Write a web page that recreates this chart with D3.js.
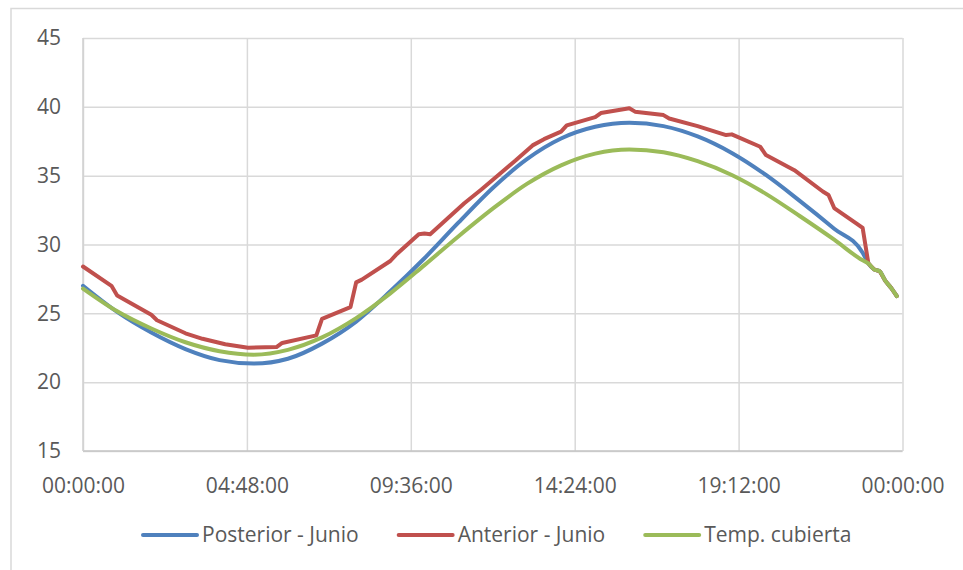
<!DOCTYPE html>
<html>
<head>
<meta charset="utf-8">
<script src="https://cdn.jsdelivr.net/npm/d3@7"></script>
<style>
  html, body { margin: 0; padding: 0; background: #ffffff; }
  svg { display: block; font-family: "Open Sans", sans-serif; }
</style>
</head>
<body>
<svg id="chart" width="963" height="570"></svg>
<script>
// Series names (legend order)
const seriesNames = ["Posterior - Junio", "Anterior - Junio", "Temp. cubierta"];

// Posterior - Junio (°C)
const posteriorTimes = ["00:00","01:00","02:00","03:00","04:00","05:00","06:00","07:00","08:00","09:00",
  "10:00","11:00","12:00","13:00","14:00","15:00","16:00","17:00","18:00","19:00","20:00","21:00",
  "22:00","22:50","23:00","23:10","23:20","23:30","23:40","23:50"];
const posteriorValues = [27.0, 25.1, 23.6, 22.4, 21.6, 21.35, 21.7, 22.8, 24.4, 26.6,
  29.0, 31.6, 34.1, 36.2, 37.7, 38.55, 38.85, 38.6, 37.85, 36.65, 35.05, 33.15,
  31.15, 29.4, 28.63, 28.2, 28.05, 27.35, 26.85, 26.25];

// Anterior - Junio (°C)
const anteriorTimes = ["00:00","00:50","01:00","02:00","02:10","03:00","03:30","04:10","04:50","05:40",
  "05:50","06:50","07:00","07:50","08:00","08:10","09:00","09:10","09:50","10:00","10:10",
  "11:10","11:40","12:10","12:40","13:10","13:30","14:00","14:10","15:00","15:10","16:00","16:10",
  "17:00","17:10","18:00","18:50","19:00","19:50","20:00","20:50","21:40","21:50","22:00","22:40",
  "22:50","23:00","23:10","23:20","23:30","23:40","23:50"];
const anteriorValues = [28.4, 27.0, 26.3, 24.9, 24.5, 23.55, 23.15, 22.75, 22.5, 22.55,
  22.85, 23.4, 24.6, 25.45, 27.25, 27.45, 28.8, 29.25, 30.75, 30.8, 30.75,
  33.0, 34.0, 35.05, 36.1, 37.2, 37.65, 38.2, 38.65, 39.25, 39.55, 39.9, 39.65,
  39.4, 39.15, 38.6, 37.95, 38.0, 37.1, 36.5, 35.4, 33.85, 33.6, 32.65, 31.5,
  31.2, 28.63, 28.2, 28.05, 27.35, 26.85, 26.25];

// Temp. cubierta (°C)
const cubiertaTimes = ["00:00","01:00","02:00","03:00","04:00","05:00","06:00","07:00","08:00","09:00",
  "10:00","11:00","12:00","13:00","14:00","15:00","16:00","17:00","18:00","19:00","20:00","21:00",
  "22:00","22:50","23:00","23:10","23:20","23:30","23:40","23:50"];
const cubiertaValues = [26.8, 25.15, 23.9, 22.9, 22.25, 22.0, 22.35, 23.25, 24.65, 26.45,
  28.5, 30.6, 32.6, 34.4, 35.75, 36.6, 36.9, 36.7, 36.05, 35.05, 33.68, 32.05,
  30.35, 28.85, 28.63, 28.2, 28.05, 27.35, 26.85, 26.25];

// Axis ticks
const yTicks = [15, 20, 25, 30, 35, 40, 45];
const xTickMinutes = [0, 288, 576, 864, 1152, 1440];
const xTickLabels = ["00:00:00", "04:48:00", "09:36:00", "14:24:00", "19:12:00", "00:00:00"];

const colors = ["#4F81BD", "#C0504D", "#9BBB59"];

const toMinutes = s => { const [h, m] = s.split(":").map(Number); return h * 60 + m; };
const zip = (ts, vs) => ts.map((t, i) => ({ t: toMinutes(t), v: vs[i] }));

const series = [
  { name: seriesNames[0], color: colors[0], data: zip(posteriorTimes, posteriorValues), curve: d3.curveMonotoneX },
  { name: seriesNames[1], color: colors[1], data: zip(anteriorTimes, anteriorValues), curve: d3.curveLinear },
  { name: seriesNames[2], color: colors[2], data: zip(cubiertaTimes, cubiertaValues), curve: d3.curveMonotoneX }
];

const svg = d3.select("#chart");
const W = 963, H = 570;
const plot = { left: 83, right: 902.5, top: 38, bottom: 451 };

// Chart frame
svg.append("rect")
  .attr("x", 11).attr("y", 8.5)
  .attr("width", W + 20).attr("height", H + 20)
  .attr("fill", "#ffffff")
  .attr("stroke", "#d9d9d9").attr("stroke-width", 1.5);

const x = d3.scaleLinear().domain([0, 1440]).range([plot.left, plot.right]);
const y = d3.scaleLinear().domain([15, 45]).range([plot.bottom, plot.top]);

const textColor = "#595959";
const fontSize = 21;

// Y axis with horizontal gridlines
const yAxis = svg.append("g")
  .attr("transform", `translate(${plot.left},0)`)
  .call(d3.axisLeft(y).tickValues(yTicks).tickSize(-(plot.right - plot.left)).tickPadding(22));
yAxis.select(".domain").remove();
yAxis.selectAll(".tick line").attr("stroke", "#d9d9d9").attr("stroke-width", 1.5);
yAxis.selectAll(".tick text").attr("fill", textColor).attr("font-size", fontSize)
  .attr("font-family", "'Open Sans', sans-serif");

// X axis with vertical gridlines
const xAxis = svg.append("g")
  .attr("transform", `translate(0,${plot.bottom})`)
  .call(d3.axisBottom(x).tickValues(xTickMinutes)
    .tickFormat((d, i) => xTickLabels[i])
    .tickSize(-(plot.bottom - plot.top)).tickPadding(27));
xAxis.select(".domain").remove();
xAxis.selectAll(".tick line").attr("stroke", "#d9d9d9").attr("stroke-width", 1.5);
xAxis.selectAll(".tick text").attr("fill", textColor).attr("font-size", fontSize)
  .attr("font-family", "'Open Sans', sans-serif");

// Axis lines
svg.append("line")
  .attr("x1", plot.left).attr("x2", plot.right)
  .attr("y1", plot.bottom).attr("y2", plot.bottom)
  .attr("stroke", "#c4c4c4").attr("stroke-width", 1.5);
svg.append("line")
  .attr("x1", plot.left).attr("x2", plot.left)
  .attr("y1", plot.top).attr("y2", plot.bottom)
  .attr("stroke", "#d0d0d0").attr("stroke-width", 1.5);

// Series lines
series.forEach(s => {
  const line = d3.line().x(d => x(d.t)).y(d => y(d.v)).curve(s.curve);
  svg.append("path")
    .datum(s.data)
    .attr("d", line)
    .attr("fill", "none")
    .attr("stroke", s.color)
    .attr("stroke-width", 4)
    .attr("stroke-linejoin", "round")
    .attr("stroke-linecap", "round");
});

// Legend
const legend = svg.append("g");
const legendY = 535, lineLen = 54, gap = 5, itemGap = 40;
let cursor = 0;
series.forEach(s => {
  const g = legend.append("g").attr("transform", `translate(${cursor},0)`);
  g.append("line")
    .attr("x1", 0).attr("x2", lineLen)
    .attr("y1", legendY).attr("y2", legendY)
    .attr("stroke", s.color).attr("stroke-width", 4)
    .attr("stroke-linecap", "round");
  const t = g.append("text")
    .attr("x", lineLen + gap).attr("y", legendY)
    .attr("dy", "0.35em")
    .attr("fill", textColor).attr("font-size", fontSize)
    .text(s.name);
  cursor += lineLen + gap + t.node().getComputedTextLength() + itemGap;
});
legend.attr("transform", "translate(143,0)");
</script>
</body>
</html>
